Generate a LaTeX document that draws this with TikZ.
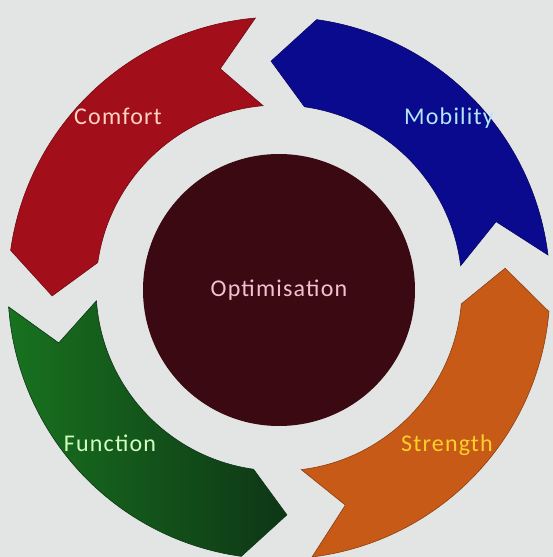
\documentclass[tikz,border=0pt]{standalone}
\usepackage{fontspec}
\setmainfont{Carlito}
\newfontfamily\labelfont[LetterSpace=5]{Carlito}
\usepackage{xcolor}
\usepackage{tikz}
\usetikzlibrary{shapes,positioning,calc}

\definecolor{paper}{HTML}{E3E5E4}
\definecolor{comfortred}{HTML}{A20F1A}
\definecolor{mobilityblue}{HTML}{0A0A8E}
\definecolor{strengthorange}{HTML}{C85A18}
\definecolor{functiongreen}{HTML}{18721F}
\definecolor{functiondark}{HTML}{0E3616}
\definecolor{optimmaroon}{HTML}{3A0911}

\begin{document}
\begin{tikzpicture}[x=1pt, y=1pt,
    segment/.style={draw=#1!70!black, line width=0.6pt, fill=#1},
    label/.style={font=\labelfont\fontsize{24}{28}\selectfont},
    hub/.style={circle, fill=optimmaroon, minimum size=272pt, inner sep=0pt, font=\labelfont\fontsize{24}{28}\selectfont, text=violet!20!pink!60!white}]

  % page
  \fill[paper] (-279,-269) rectangle (274,288);
  \useasboundingbox (-279,-269) rectangle (274,288);

  % ring of four arrows, running anticlockwise
  \path[segment=mobilityblue] (7:271) arc[start angle=7, end angle=82, radius=271]
    -- (92:227) -- (82:183) arc[start angle=82, end angle=7, radius=183] -- (17:227) -- cycle;
  \path[segment=comfortred] (95:271) arc[start angle=95, end angle=172, radius=271]
    -- (182:227) -- (172:183) arc[start angle=172, end angle=95, radius=183] -- (105:227) -- cycle;
  \path[draw=functiondark, line width=0.6pt, left color=functiongreen, middle color=functiongreen!85!functiondark, right color=functiondark]
    (184:271) arc[start angle=184, end angle=262, radius=271]
    -- (272:227) -- (262:183) arc[start angle=262, end angle=184, radius=183] -- (194:227) -- cycle;
  \path[segment=strengthorange] (277:271) arc[start angle=277, end angle=355, radius=271]
    -- (365:227) -- (355:183) arc[start angle=355, end angle=277, radius=183] -- (287:227) -- cycle;

  % labels
  \node[label, text=orange!25!pink!55!white] (comfort) at (-161,172) {Comfort};
  \node[label, text=cyan!30!white] (mobility) at (170,170) {Mobility};
  \node[label, text=lime!40!green!25!white] (function) at (-169,-155) {Function};
  \node[label, text=yellow!60!orange!85!white] (strength) at (168,-157) {Strength};

  % centre
  \node[hub] (optim) at (0,-2) {Optimisation};
\end{tikzpicture}
\end{document}
